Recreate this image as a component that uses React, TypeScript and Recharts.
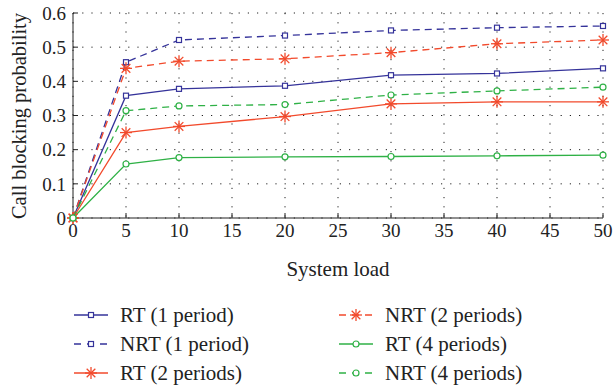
import { CartesianGrid, Line, LineChart, XAxis, YAxis } from 'recharts';

// Call blocking probability vs system load, six curves (RT / NRT for 1, 2, 4 periods).
const loads = [0, 5, 10, 20, 30, 40, 50];
const rt1 = [0, 0.358, 0.378, 0.387, 0.418, 0.423, 0.438];
const nrt1 = [0, 0.456, 0.521, 0.534, 0.549, 0.557, 0.562];
const rt2 = [0, 0.25, 0.268, 0.297, 0.334, 0.34, 0.34];
const nrt2 = [0, 0.438, 0.459, 0.466, 0.484, 0.51, 0.521];
const rt4 = [0, 0.158, 0.177, 0.179, 0.18, 0.182, 0.184];
const nrt4 = [0, 0.314, 0.328, 0.332, 0.36, 0.372, 0.383];

const xTicks = [0, 5, 10, 15, 20, 25, 30, 35, 40, 45, 50];
const yTicks = [0, 0.1, 0.2, 0.3, 0.4, 0.5, 0.6];

const BLUE = '#35339a';
const RED = '#f24a2c';
const GREEN = '#2fb146';
const FONT = '"Liberation Serif", "DejaVu Serif", serif';

const data = loads.map((x, i) => ({
  x,
  rt1: rt1[i],
  nrt1: nrt1[i],
  rt2: rt2[i],
  nrt2: nrt2[i],
  rt4: rt4[i],
  nrt4: nrt4[i],
}));

type Marker = 'square' | 'star' | 'circle';

function Mark({ cx, cy, kind, color }: { cx: number; cy: number; kind: Marker; color: string }) {
  if (cx == null || cy == null) return null;
  if (kind === 'square')
    return <rect x={cx - 2.5} y={cy - 2.5} width={5} height={5} fill="white" stroke={color} strokeWidth={1.2} />;
  if (kind === 'circle') return <circle cx={cx} cy={cy} r={3} fill="white" stroke={color} strokeWidth={1.2} />;
  const r = 6;
  const d = r * 0.72;
  return (
    <g stroke={color} strokeWidth={1.3}>
      <line x1={cx - r} y1={cy} x2={cx + r} y2={cy} />
      <line x1={cx} y1={cy - r} x2={cx} y2={cy + r} />
      <line x1={cx - d} y1={cy - d} x2={cx + d} y2={cy + d} />
      <line x1={cx - d} y1={cy + d} x2={cx + d} y2={cy - d} />
    </g>
  );
}

const SERIES: { key: string; name: string; color: string; dash?: string; kind: Marker }[] = [
  { key: 'rt1', name: 'RT (1 period)', color: BLUE, kind: 'square' },
  { key: 'nrt1', name: 'NRT (1 period)', color: BLUE, dash: '7 5', kind: 'square' },
  { key: 'rt2', name: 'RT (2 periods)', color: RED, kind: 'star' },
  { key: 'nrt2', name: 'NRT (2 periods)', color: RED, dash: '7 5', kind: 'star' },
  { key: 'rt4', name: 'RT (4 periods)', color: GREEN, kind: 'circle' },
  { key: 'nrt4', name: 'NRT (4 periods)', color: GREEN, dash: '7 5', kind: 'circle' },
];

// legend is laid out in two columns of three, as in the figure
const legendCols = [SERIES.slice(0, 3), SERIES.slice(3)];

export default function App() {
  const tick = { fontSize: 19, fill: '#222', fontFamily: FONT };
  return (
    <div style={{ position: 'absolute', left: 0, top: 0, width: 615, height: 390, background: 'white', fontFamily: FONT }}>
      <LineChart width={615} height={285} data={data} margin={{ top: 13, right: 12, bottom: 0, left: 0 }}>
        <CartesianGrid stroke="#222" strokeDasharray="1.2 8" />
        <XAxis
          dataKey="x"
          type="number"
          domain={[0, 50]}
          ticks={xTicks}
          height={67}
          tickSize={-5}
          tickMargin={11}
          tick={tick}
          stroke="#222"
          label={{ value: 'System load', position: 'insideBottom', offset: 9, fontSize: 21, fill: '#222', fontFamily: FONT }}
        />
        <XAxis xAxisId="top" dataKey="x" type="number" domain={[0, 50]} ticks={xTicks} orientation="top" height={0} tickSize={-5} tickFormatter={() => ''} stroke="#222" />
        <YAxis
          type="number"
          domain={[0, 0.6]}
          ticks={yTicks}
          width={73}
          tickSize={-5}
          tickMargin={12}
          tick={tick}
          stroke="#222"
          label={{
            content: () => (
              <text x={19} y={116} transform="rotate(-90 19 116)" textAnchor="middle" dominantBaseline="central" fontSize={20.5} fill="#222" fontFamily={FONT}>
                Call blocking probability
              </text>
            ),
          }}
        />
        <YAxis yAxisId="right" type="number" domain={[0, 0.6]} ticks={yTicks} orientation="right" width={0} tickSize={-5} tickFormatter={() => ''} stroke="#222" />
        {SERIES.map((s) => (
          <Line
            key={s.key}
            dataKey={s.key}
            name={s.name}
            stroke={s.color}
            strokeWidth={1.3}
            strokeDasharray={s.dash}
            isAnimationActive={false}
            dot={(p: any) => <Mark key={`${s.key}-${p.index}`} cx={p.cx} cy={p.cy} kind={s.kind} color={s.color} />}
          />
        ))}
      </LineChart>

      {legendCols.map((col, ci) =>
        col.map((s, ri) => (
          <div
            key={s.key}
            style={{ position: 'absolute', left: ci === 0 ? 72 : 337, top: 301 + ri * 29, height: 28, display: 'flex', alignItems: 'center' }}
          >
            <svg width={38} height={16}>
              <line x1={2} y1={8} x2={36} y2={8} stroke={s.color} strokeWidth={1.3} strokeDasharray={s.dash ? '7 6' : undefined} />
              <Mark cx={19} cy={8} kind={s.kind} color={s.color} />
            </svg>
            <span style={{ marginLeft: 10, fontSize: 21, color: '#222', whiteSpace: 'nowrap' }}>{s.name}</span>
          </div>
        ))
      )}
    </div>
  );
}
